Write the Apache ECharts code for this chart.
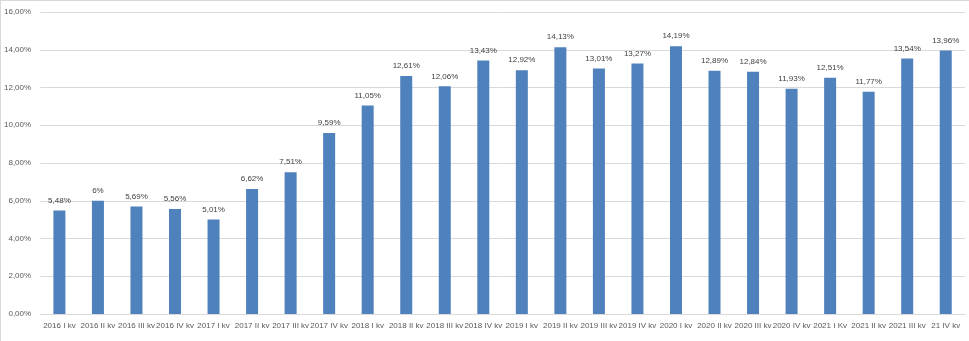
<!DOCTYPE html>
<html><head><meta charset="utf-8">
<script src="https://cdn.jsdelivr.net/npm/echarts@6/dist/echarts.min.js"></script>
<style>html,body{margin:0;padding:0;background:#fff;}#c{width:969px;height:341px;box-sizing:border-box;border-left:1px solid #d9d9d9;border-top:1px solid #d9d9d9;}</style>
</head><body><div id="c"></div>
<script>
const categories = ["2016 I kv","2016 II kv","2016 III kv","2016 IV kv","2017 I kv","2017 II kv","2017 III kv","2017 IV kv","2018 I kv","2018 II kv","2018 III kv","2018 IV kv","2019 I kv","2019 II kv","2019 III kv","2019 IV kv","2020 I kv","2020 II kv","2020 III kv","2020 IV kv","2021 I Kv","2021 II kv","2021 III kv","21 IV kv"];
const values = [5.48,6,5.69,5.56,5.01,6.62,7.51,9.59,11.05,12.61,12.06,13.43,12.92,14.13,13.01,13.27,14.19,12.89,12.84,11.93,12.51,11.77,13.54,13.96];
const yTicks = [0,2,4,6,8,10,12,14,16];

const fmt = v => Number.isInteger(v) ? v + '%' : v.toFixed(2).replace('.', ',') + '%';
const chart = echarts.init(document.getElementById('c'), null, {renderer:'canvas'});
chart.setOption({
  animation:false,
  grid:{left:37,right:4,top:11,bottom:27,containLabel:false},
  xAxis:{type:'category',data:categories,
    axisLine:{lineStyle:{color:'#d9d9d9'}},axisTick:{show:false},
    axisLabel:{interval:0,color:'#595959',fontSize:8,fontFamily:'Liberation Sans, Arial',margin:8}},
  yAxis:{type:'value',min:yTicks[0],max:yTicks[yTicks.length-1],interval:2,
    axisLine:{show:false},axisTick:{show:false},
    splitLine:{lineStyle:{color:'#d9d9d9'}},
    axisLabel:{color:'#595959',fontSize:8,fontFamily:'Liberation Sans, Arial',margin:9,
      formatter:v=>v.toFixed(2).replace('.',',')+'%'}},
  series:[{type:'bar',data:values,barWidth:12,itemStyle:{color:'#4F81BD'},
    label:{show:true,position:'top',distance:6,color:'#404040',fontSize:8,fontFamily:'Liberation Sans, Arial',
      formatter:p=>fmt(p.value)}}]
});
</script></body></html>
